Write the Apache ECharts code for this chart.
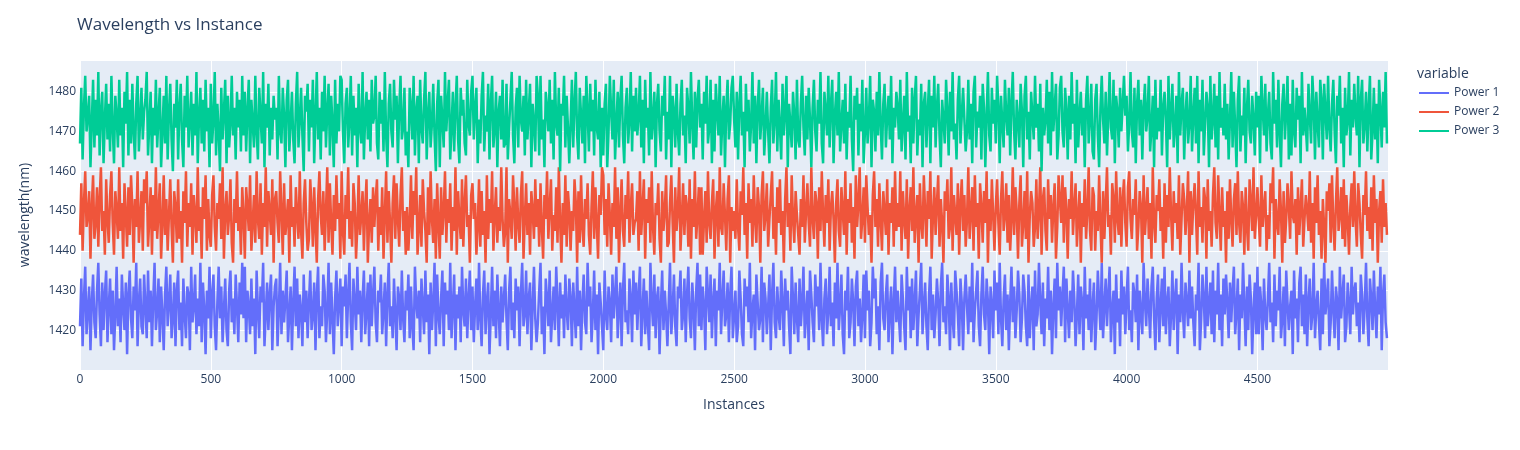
<!DOCTYPE html>
<html>
<head>
<meta charset="utf-8">
<script src="https://cdn.jsdelivr.net/npm/echarts@6/dist/echarts.min.js"></script>
<style>
  html, body { margin: 0; padding: 0; background: #fff; }
  #chart { width: 1520px; height: 450px; }
</style>
</head>
<body>
<div id="chart"></div>
<script>
// values, one sample every 5 instances
var sampleStep = 5;
var seriesNames = ['Power 1', 'Power 2', 'Power 3'];
var seriesColors = ['#636efa', '#EF553B', '#00cc96'];
var xTicks = [0, 500, 1000, 1500, 2000, 2500, 3000, 3500, 4000, 4500];
var yTicks = [1420, 1430, 1440, 1450, 1460, 1470, 1480];

var power1 = [
    1421,1433,1416,1428,1436,1419,1425,1431,1415,1427,1434,1422,1418,1430,1437,1424,1416,1432,1420,1429,1435,1417,1426,1433,1419,
    1430,1415,1424,1436,1421,1428,1417,1434,1426,1420,1432,1414,1429,1435,1423,1418,1431,1425,1437,1416,1427,1433,1421,1419,1434,
    1426,1418,1435,1422,1430,1416,1428,1437,1420,1425,1433,1417,1431,1424,1415,1429,1436,1421,1427,1434,1418,1423,1432,1416,1430,
    1435,1420,1427,1416,1433,1424,1418,1431,1429,1415,1436,1422,1426,1434,1419,1428,1421,1437,1417,1432,1425,1414,1430,1423,1436,
    1418,1429,1434,1421,1415,1427,1436,1423,1431,1417,1425,1433,1420,1416,1430,1435,1422,1428,1419,1434,1426,1417,1432,1424,1437,
    1423,1436,1417,1430,1426,1419,1433,1421,1428,1414,1435,1425,1418,1431,1427,1437,1416,1424,1432,1420,1429,1434,1415,1426,1431,
    1433,1416,1425,1437,1419,1430,1422,1428,1435,1417,1424,1431,1415,1427,1436,1421,1433,1418,1429,1425,1416,1434,1422,1430,1418,
    1427,1435,1420,1424,1432,1415,1429,1436,1418,1426,1421,1434,1430,1417,1425,1437,1419,1432,1423,1414,1428,1435,1421,1427,1433,
    1416,1431,1426,1434,1418,1429,1437,1422,1415,1433,1427,1420,1436,1424,1430,1417,1428,1435,1419,1425,1432,1416,1434,1421,1429,
    1436,1422,1417,1430,1427,1434,1419,1425,1432,1416,1429,1437,1421,1426,1418,1433,1424,1415,1431,1428,1420,1435,1423,1417,1430,
    1425,1434,1418,1431,1421,1415,1436,1427,1423,1430,1417,1433,1426,1419,1435,1422,1429,1414,1432,1420,1427,1437,1416,1434,1424,
    1419,1428,1435,1416,1432,1424,1430,1420,1437,1418,1426,1434,1415,1429,1423,1431,1417,1436,1425,1421,1433,1418,1428,1435,1420,
    1431,1417,1426,1433,1420,1437,1423,1416,1429,1435,1419,1427,1432,1414,1424,1436,1421,1430,1418,1434,1425,1416,1431,1422,1428,
    1434,1423,1415,1430,1436,1420,1427,1418,1433,1425,1431,1416,1429,1437,1421,1424,1435,1419,1428,1432,1415,1426,1436,1423,1417,
    1422,1430,1437,1419,1426,1414,1433,1428,1421,1435,1417,1424,1431,1420,1436,1427,1416,1432,1423,1429,1418,1434,1425,1420,1433,
    1428,1416,1432,1425,1418,1436,1421,1430,1415,1427,1434,1422,1419,1437,1426,1431,1417,1424,1435,1420,1429,1414,1432,1427,1421,
    1415,1435,1424,1420,1431,1427,1417,1434,1423,1429,1436,1418,1426,1432,1416,1430,1437,1422,1425,1419,1433,1428,1417,1435,1424,
    1432,1420,1429,1436,1416,1425,1433,1419,1430,1422,1415,1437,1427,1421,1434,1418,1428,1431,1414,1426,1435,1420,1430,1424,1416,
    1427,1437,1419,1425,1434,1421,1416,1431,1428,1435,1420,1424,1433,1417,1429,1436,1423,1418,1432,1426,1415,1430,1437,1421,1434,
    1420,1431,1426,1415,1436,1429,1422,1434,1418,1427,1433,1416,1430,1425,1437,1419,1428,1435,1421,1424,1432,1417,1429,1436,1418,
    1424,1430,1417,1421,1435,1428,1419,1416,1433,1426,1431,1422,1437,1418,1425,1429,1415,1434,1427,1420,1423,1436,1417,1432,1428,
    1419,1426,1434,1415,1429,1437,1422,1418,1431,1424,1420,1435,1427,1416,1433,1425,1430,1421,1414,1436,1428,1419,1432,1423,1417,
    1433,1421,1427,1436,1418,1424,1430,1415,1435,1429,1422,1417,1434,1426,1431,1420,1437,1423,1416,1428,1433,1419,1425,1436,1421,
    1427,1416,1432,1423,1437,1420,1426,1434,1419,1414,1430,1425,1436,1418,1422,1433,1427,1416,1431,1435,1421,1428,1417,1424,1434,
    1418,1435,1425,1430,1416,1422,1436,1428,1433,1419,1426,1415,1432,1437,1423,1420,1429,1434,1417,1425,1431,1414,1427,1436,1422,
    1430,1423,1417,1434,1428,1421,1415,1436,1425,1431,1418,1433,1420,1427,1435,1416,1424,1430,1437,1419,1426,1432,1421,1415,1429,
    1436,1420,1429,1418,1424,1433,1427,1416,1431,1437,1422,1426,1419,1434,1428,1415,1432,1423,1418,1435,1430,1424,1416,1433,1427,
    1415,1428,1434,1426,1419,1431,1422,1437,1417,1425,1430,1435,1421,1416,1429,1436,1424,1420,1433,1427,1414,1431,1426,1418,1435,
    1425,1432,1419,1437,1423,1416,1428,1434,1420,1429,1415,1427,1436,1422,1431,1418,1425,1435,1429,1417,1423,1434,1430,1421,1416,
    1434,1418,1426,1431,1415,1435,1421,1424,1437,1427,1419,1432,1416,1428,1423,1436,1420,1430,1414,1426,1433,1418,1437,1425,1431,
    1421,1429,1436,1417,1433,1425,1418,1430,1422,1435,1428,1416,1424,1434,1419,1431,1427,1415,1436,1423,1429,1420,1433,1417,1426,
    1432,1415,1423,1435,1427,1420,1437,1418,1426,1433,1421,1429,1436,1417,1425,1430,1414,1434,1422,1428,1416,1435,1424,1431,1419,
    1428,1436,1420,1425,1417,1432,1429,1422,1434,1415,1430,1424,1419,1437,1427,1421,1433,1426,1418,1431,1436,1423,1415,1428,1434,
    1417,1426,1433,1421,1436,1419,1427,1431,1416,1424,1435,1420,1428,1433,1414,1429,1422,1437,1425,1418,1432,1427,1421,1435,1423,
    1431,1422,1416,1429,1425,1437,1415,1423,1434,1428,1418,1436,1421,1426,1432,1419,1435,1417,1430,1424,1437,1420,1429,1416,1433,
    1424,1434,1427,1418,1432,1422,1430,1436,1419,1425,1433,1415,1429,1423,1437,1426,1416,1431,1420,1434,1428,1414,1425,1432,1419,
    1436,1419,1431,1426,1415,1433,1424,1420,1428,1437,1422,1427,1417,1434,1421,1430,1425,1436,1418,1423,1431,1416,1435,1427,1420,
    1426,1430,1414,1435,1423,1428,1417,1432,1436,1421,1429,1419,1434,1416,1427,1433,1420,1424,1437,1418,1426,1430,1422,1415,1433,
    1419,1437,1424,1428,1433,1416,1422,1435,1425,1418,1431,1427,1415,1436,1423,1429,1434,1417,1421,1432,1426,1419,1436,1424,1430,
    1432,1421,1427,1417,1434,1429,1419,1426,1437,1423,1416,1433,1428,1420,1435,1425,1418,1431,1424,1436,1415,1429,1434,1422,1418
];
var power2 = [
    1444,1457,1440,1452,1460,1446,1449,1455,1438,1451,1459,1443,1447,1456,1441,1453,1461,1445,1450,1439,1458,1448,1442,1454,1460,
    1447,1439,1455,1450,1443,1461,1445,1452,1438,1457,1449,1441,1456,1444,1459,1451,1437,1453,1446,1460,1442,1448,1455,1440,1458,
    1452,1460,1441,1448,1456,1439,1454,1445,1461,1443,1450,1457,1438,1447,1459,1444,1453,1440,1449,1458,1446,1437,1455,1451,1442,
    1458,1443,1450,1437,1455,1447,1460,1441,1452,1446,1457,1439,1454,1449,1442,1461,1445,1451,1438,1456,1448,1459,1440,1453,1444,
    1441,1454,1459,1446,1440,1452,1448,1457,1443,1461,1438,1450,1455,1444,1449,1458,1442,1437,1453,1447,1460,1445,1451,1439,1456,
    1449,1438,1456,1451,1445,1459,1440,1447,1454,1442,1460,1448,1443,1457,1439,1452,1446,1461,1441,1455,1450,1444,1458,1437,1453,
    1455,1447,1442,1460,1450,1439,1457,1444,1448,1453,1437,1459,1446,1451,1441,1456,1449,1443,1460,1445,1438,1452,1458,1447,1440,
    1443,1458,1451,1441,1456,1446,1437,1453,1460,1449,1444,1455,1440,1450,1461,1442,1457,1447,1439,1454,1445,1459,1448,1452,1438,
    1460,1445,1439,1454,1448,1461,1443,1450,1441,1457,1452,1438,1446,1459,1444,1449,1455,1440,1451,1458,1437,1447,1453,1442,1456,
    1446,1453,1458,1440,1451,1444,1456,1438,1449,1460,1442,1455,1447,1437,1452,1459,1443,1457,1448,1441,1454,1461,1445,1450,1439,
    1451,1440,1447,1459,1443,1455,1449,1461,1439,1446,1454,1441,1458,1450,1445,1437,1456,1444,1460,1448,1442,1453,1438,1457,1447,
    1438,1456,1444,1450,1460,1442,1453,1447,1457,1440,1451,1445,1461,1439,1455,1448,1443,1458,1441,1452,1459,1446,1449,1437,1454,
    1457,1448,1452,1439,1446,1458,1441,1455,1444,1450,1437,1459,1443,1453,1447,1460,1440,1449,1456,1442,1451,1445,1461,1448,1441,
    1445,1461,1437,1453,1449,1443,1459,1451,1440,1456,1447,1442,1454,1460,1438,1448,1457,1444,1452,1439,1455,1450,1443,1458,1446,
    1453,1441,1457,1446,1438,1454,1448,1460,1443,1451,1458,1440,1449,1445,1456,1442,1461,1447,1437,1452,1444,1459,1441,1455,1450,
    1440,1450,1445,1458,1452,1437,1455,1442,1459,1446,1441,1453,1448,1457,1444,1439,1451,1460,1443,1456,1447,1438,1454,1449,1461,
    1459,1444,1453,1441,1457,1449,1439,1452,1446,1461,1443,1456,1437,1450,1458,1445,1441,1454,1448,1460,1442,1451,1457,1444,1447,
    1448,1455,1440,1460,1444,1451,1458,1438,1453,1447,1456,1442,1460,1446,1439,1452,1449,1457,1443,1437,1455,1445,1450,1459,1441,
    1442,1452,1459,1447,1437,1456,1445,1450,1461,1440,1448,1457,1444,1454,1451,1441,1458,1438,1453,1446,1460,1443,1449,1456,1439,
    1456,1439,1448,1455,1442,1460,1447,1443,1452,1458,1438,1450,1455,1441,1461,1446,1444,1457,1449,1440,1453,1459,1437,1451,1445,
    1450,1443,1458,1446,1440,1455,1449,1461,1444,1452,1438,1457,1447,1453,1441,1459,1448,1442,1456,1451,1437,1454,1460,1445,1449,
    1457,1441,1448,1454,1460,1443,1451,1439,1456,1447,1458,1444,1450,1437,1453,1461,1446,1452,1440,1459,1448,1442,1455,1449,1444,
    1439,1453,1446,1459,1442,1450,1457,1447,1441,1461,1448,1443,1455,1452,1438,1456,1445,1460,1449,1441,1454,1447,1458,1440,1451,
    1455,1448,1437,1452,1458,1445,1441,1456,1450,1444,1460,1439,1453,1447,1457,1442,1451,1438,1459,1446,1452,1461,1443,1448,1456,
    1442,1459,1451,1444,1449,1437,1454,1460,1446,1453,1441,1457,1448,1440,1455,1450,1444,1458,1439,1452,1447,1456,1441,1460,1445,
    1452,1446,1460,1440,1455,1448,1443,1458,1438,1450,1456,1445,1461,1442,1449,1454,1437,1457,1447,1443,1459,1450,1441,1455,1448,
    1460,1438,1449,1456,1444,1452,1459,1441,1453,1447,1437,1455,1450,1458,1443,1446,1461,1440,1454,1449,1444,1457,1439,1452,1458,
    1445,1454,1441,1448,1461,1443,1450,1456,1440,1459,1446,1452,1438,1457,1451,1442,1455,1447,1460,1437,1453,1445,1458,1449,1440,
    1451,1458,1447,1439,1453,1460,1445,1449,1457,1442,1454,1440,1448,1461,1444,1456,1450,1438,1452,1459,1441,1447,1455,1443,1460,
    1437,1449,1455,1452,1441,1446,1458,1443,1450,1461,1439,1453,1456,1445,1440,1458,1448,1454,1442,1451,1457,1438,1446,1459,1453,
    1447,1459,1442,1456,1450,1438,1453,1448,1460,1444,1451,1457,1441,1449,1455,1437,1452,1446,1458,1443,1450,1461,1445,1440,1456,
    1454,1440,1450,1445,1459,1447,1437,1455,1443,1452,1461,1446,1449,1439,1457,1453,1442,1460,1448,1444,1456,1441,1453,1458,1447,
    1441,1456,1460,1448,1443,1453,1449,1458,1440,1446,1455,1451,1437,1459,1444,1450,1456,1443,1452,1438,1461,1447,1442,1454,1450,
    1458,1445,1451,1438,1457,1442,1454,1446,1461,1449,1440,1455,1447,1452,1443,1459,1439,1448,1457,1453,1444,1450,1460,1437,1455,
    1444,1452,1457,1449,1439,1460,1446,1451,1442,1456,1453,1438,1458,1445,1450,1441,1454,1461,1447,1443,1459,1449,1440,1456,1446,
    1450,1437,1455,1443,1458,1448,1441,1453,1457,1444,1460,1447,1442,1455,1451,1439,1456,1446,1440,1458,1452,1445,1461,1443,1449,
    1456,1448,1441,1459,1446,1451,1455,1440,1449,1443,1457,1452,1461,1438,1453,1447,1444,1458,1450,1437,1455,1442,1448,1457,1451,
    1443,1460,1449,1447,1453,1439,1456,1444,1451,1458,1441,1448,1454,1450,1445,1460,1442,1452,1438,1456,1447,1459,1444,1450,1438,
    1453,1446,1437,1455,1450,1457,1442,1459,1447,1440,1452,1461,1445,1449,1456,1443,1458,1441,1454,1448,1439,1451,1457,1446,1460,
    1448,1441,1457,1452,1444,1438,1454,1449,1460,1445,1451,1443,1456,1440,1459,1447,1453,1437,1450,1455,1442,1458,1446,1452,1444
];
var power3 = [
    1467,1481,1463,1476,1484,1470,1474,1479,1461,1472,1483,1466,1478,1469,1485,1464,1475,1480,1462,1473,1482,1468,1477,1465,1484,
    1471,1462,1479,1474,1466,1483,1469,1476,1461,1480,1472,1485,1464,1478,1467,1482,1470,1463,1477,1484,1465,1473,1481,1468,1475,
    1478,1485,1464,1472,1480,1462,1476,1469,1483,1466,1474,1481,1461,1470,1479,1467,1484,1463,1475,1482,1468,1460,1477,1471,1483,
    1463,1476,1482,1468,1461,1479,1471,1484,1466,1473,1480,1464,1477,1469,1485,1462,1474,1481,1467,1478,1465,1483,1470,1476,1461,
    1482,1467,1473,1485,1464,1477,1470,1460,1481,1468,1475,1483,1462,1479,1466,1472,1484,1469,1476,1463,1480,1471,1478,1465,1484,
    1469,1480,1465,1475,1483,1462,1478,1472,1466,1484,1470,1463,1481,1474,1467,1485,1461,1477,1471,1482,1464,1476,1468,1479,1473,
    1476,1463,1484,1470,1467,1481,1474,1461,1478,1483,1465,1472,1480,1468,1462,1477,1485,1466,1473,1481,1469,1460,1479,1475,1482,
    1465,1478,1471,1483,1462,1474,1485,1468,1476,1463,1480,1470,1484,1466,1475,1482,1464,1479,1472,1461,1483,1467,1477,1470,1484,
    1483,1470,1462,1477,1481,1466,1473,1484,1464,1479,1469,1476,1461,1482,1471,1467,1485,1463,1474,1480,1468,1478,1465,1483,1472,
    1474,1484,1467,1463,1480,1472,1478,1465,1485,1469,1461,1477,1482,1470,1466,1483,1473,1479,1462,1476,1484,1468,1471,1481,1464,
    1470,1461,1481,1476,1468,1484,1464,1475,1479,1462,1483,1471,1467,1478,1485,1463,1474,1480,1466,1472,1482,1469,1460,1477,1483,
    1461,1479,1473,1466,1485,1470,1477,1483,1463,1471,1480,1465,1476,1484,1468,1462,1481,1474,1478,1467,1464,1483,1472,1469,1480,
    1484,1468,1476,1481,1462,1473,1467,1479,1485,1465,1474,1470,1482,1463,1477,1484,1466,1471,1480,1461,1475,1479,1468,1483,1466,
    1467,1482,1463,1471,1478,1485,1469,1462,1476,1481,1466,1484,1473,1470,1479,1464,1483,1468,1475,1482,1461,1477,1472,1465,1484,
    1479,1464,1484,1468,1473,1461,1480,1476,1470,1483,1467,1478,1463,1485,1472,1469,1481,1460,1477,1474,1484,1466,1479,1471,1462,
    1472,1483,1466,1477,1485,1469,1463,1481,1474,1467,1479,1462,1484,1475,1465,1482,1470,1478,1464,1483,1471,1468,1480,1461,1476,
    1464,1477,1482,1461,1470,1484,1475,1468,1483,1463,1472,1480,1466,1478,1484,1469,1462,1476,1481,1467,1473,1485,1465,1479,1470,
    1481,1469,1474,1484,1466,1478,1462,1483,1471,1476,1464,1485,1468,1473,1480,1461,1477,1482,1470,1465,1479,1474,1484,1463,1475,
    1468,1484,1461,1479,1475,1466,1482,1470,1464,1477,1483,1469,1474,1462,1481,1476,1467,1485,1472,1463,1480,1466,1478,1483,1471,
    1477,1463,1480,1472,1484,1467,1471,1483,1462,1478,1465,1482,1475,1469,1484,1464,1473,1479,1461,1476,1483,1468,1472,1481,1484,
    1473,1466,1480,1463,1477,1484,1469,1475,1461,1482,1470,1478,1465,1472,1485,1467,1479,1462,1476,1483,1468,1474,1481,1464,1471,
    1480,1470,1462,1476,1483,1467,1473,1485,1465,1478,1471,1463,1482,1469,1475,1484,1461,1477,1472,1466,1480,1474,1463,1483,1468,
    1466,1477,1484,1471,1464,1479,1468,1481,1473,1461,1476,1483,1470,1465,1478,1472,1485,1467,1462,1480,1475,1469,1484,1466,1477,
    1483,1462,1474,1480,1469,1485,1465,1472,1478,1467,1482,1463,1475,1471,1484,1468,1460,1479,1473,1481,1464,1477,1470,1483,1462,
    1470,1481,1467,1473,1484,1461,1478,1475,1465,1480,1469,1485,1472,1463,1477,1482,1466,1474,1479,1468,1484,1462,1476,1471,1480,
    1476,1468,1483,1465,1472,1479,1463,1485,1470,1474,1462,1481,1467,1478,1484,1464,1473,1469,1482,1461,1477,1480,1466,1475,1483,
    1462,1479,1471,1484,1466,1476,1482,1469,1461,1478,1473,1467,1483,1475,1464,1480,1470,1485,1468,1472,1463,1478,1484,1467,1474,
    1481,1473,1465,1470,1483,1468,1477,1462,1480,1484,1466,1475,1471,1479,1463,1482,1476,1461,1474,1485,1469,1465,1481,1472,1478,
    1467,1484,1476,1462,1479,1472,1466,1483,1474,1469,1481,1464,1477,1485,1470,1463,1478,1473,1466,1482,1475,1461,1479,1484,1468,
    1475,1463,1480,1474,1468,1484,1471,1477,1465,1482,1460,1476,1469,1473,1483,1467,1480,1464,1485,1470,1476,1482,1463,1469,1481,
    1484,1470,1466,1481,1475,1463,1479,1468,1485,1472,1477,1462,1483,1466,1474,1480,1469,1476,1461,1478,1484,1467,1473,1482,1465,
    1463,1478,1482,1469,1461,1476,1484,1473,1467,1480,1464,1474,1485,1471,1468,1483,1462,1479,1475,1466,1481,1470,1477,1484,1474,
    1479,1465,1472,1485,1470,1466,1481,1462,1477,1483,1469,1478,1463,1476,1482,1470,1474,1484,1465,1471,1479,1461,1483,1468,1476,
    1470,1483,1464,1476,1480,1473,1461,1484,1468,1475,1482,1466,1471,1479,1462,1485,1469,1477,1481,1463,1474,1480,1467,1472,1484,
    1465,1474,1481,1467,1484,1462,1478,1470,1483,1464,1472,1480,1476,1461,1484,1468,1473,1482,1466,1479,1463,1485,1471,1476,1469,
    1482,1468,1477,1463,1473,1485,1466,1480,1471,1461,1478,1484,1465,1474,1469,1481,1462,1476,1483,1470,1467,1479,1473,1464,1480,
    1471,1479,1462,1484,1476,1469,1482,1465,1474,1480,1467,1463,1485,1472,1478,1466,1483,1470,1461,1477,1482,1468,1475,1484,1463,
    1477,1464,1483,1470,1466,1481,1473,1479,1462,1485,1469,1476,1471,1465,1482,1474,1467,1484,1477,1463,1480,1472,1466,1483,1478,
    1463,1482,1475,1468,1484,1471,1465,1477,1483,1470,1462,1479,1474,1484,1467,1476,1461,1481,1469,1473,1485,1464,1478,1471,1482,
    1474,1469,1484,1461,1478,1483,1467,1472,1480,1465,1476,1484,1463,1470,1481,1468,1477,1462,1483,1475,1466,1480,1471,1485,1467
];

var textColor = '#2a3f5f';
var fontName = '"Open Sans", verdana, arial, sans-serif';

function toPairs(values) {
    var out = [];
    for (var i = 0; i < values.length; i++) {
        out.push([i * sampleStep, values[i]]);
    }
    return out;
}

var myChart = echarts.init(document.getElementById('chart'), null, { renderer: 'canvas' });
var allValues = [power1, power2, power3];
var series = [];
for (var s = 0; s < seriesNames.length; s++) {
    series.push({
        name: seriesNames[s],
        type: 'line',
        data: toPairs(allValues[s]),
        symbol: 'none',
        animation: false,
        lineStyle: { width: 2.5, color: seriesColors[s], join: 'bevel' },
        itemStyle: { color: seriesColors[s] }
    });
}

var option = {
    backgroundColor: '#fff',
    textStyle: { fontFamily: fontName, color: textColor },
    title: [
        {
            text: 'Wavelength vs Instance',
            left: 72, top: 12,
            textStyle: { fontFamily: fontName, fontSize: 17, fontWeight: 'normal', color: textColor }
        },
        {
            text: 'variable',
            left: 1412, top: 62,
            textStyle: { fontFamily: fontName, fontSize: 14, fontWeight: 'normal', color: textColor }
        }
    ],
    legend: {
        data: seriesNames,
        orient: 'vertical',
        left: 1414, top: 82,
        icon: 'rect',
        itemWidth: 30, itemHeight: 2,
        itemGap: 7,
        textStyle: { fontFamily: fontName, fontSize: 12, color: textColor },
        selectedMode: false
    },
    grid: {
        left: 80, right: 132, top: 60, bottom: 80,
        show: true, backgroundColor: '#E5ECF6', borderWidth: 0
    },
    xAxis: {
        type: 'value',
        min: 0, max: 4999, interval: 500,
        name: 'Instances',
        nameLocation: 'middle', nameGap: 28,
        nameTextStyle: { fontFamily: fontName, fontSize: 14, color: textColor },
        axisLine: { show: false }, axisTick: { show: false },
        axisLabel: {
            fontFamily: fontName, fontSize: 12, color: textColor, margin: 4,
            showMaxLabel: false,
            formatter: function (v) { return xTicks.indexOf(v) >= 0 ? String(v) : ''; }
        },
        splitLine: { show: true, lineStyle: { color: '#fff', width: 1 } }
    },
    yAxis: {
        type: 'value',
        min: 1410, max: 1488, interval: 10,
        name: 'wavelength(nm)',
        nameLocation: 'middle', nameGap: 48,
        nameTextStyle: { fontFamily: fontName, fontSize: 14, color: textColor },
        axisLine: { show: false }, axisTick: { show: false },
        axisLabel: {
            fontFamily: fontName, fontSize: 12, color: textColor, margin: 4,
            showMinLabel: false, showMaxLabel: false,
            formatter: function (v) { return yTicks.indexOf(v) >= 0 ? String(v) : ''; }
        },
        splitLine: { show: true, lineStyle: { color: '#fff', width: 1 } }
    },
    series: series
};

myChart.setOption(option);
</script>
</body>
</html>
